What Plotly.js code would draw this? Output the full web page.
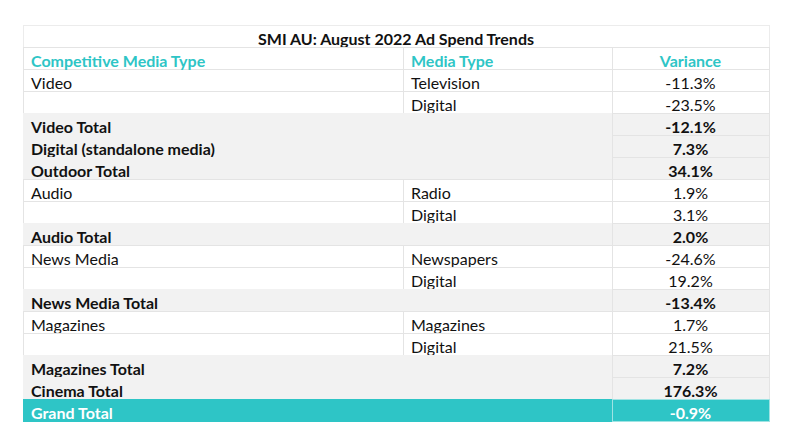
<!DOCTYPE html>
<html>
<head>
<meta charset="utf-8">
<script src="https://cdn.plot.ly/plotly-3.0.1.min.js"></script>
<style>html,body{margin:0;padding:0;background:#fff;}#chart{width:800px;height:444px;}</style>
</head>
<body>
<div id="chart"></div>
<script>
const tableTitle = "SMI AU: August 2022 Ad Spend Trends";
const headers = ["Competitive Media Type", "Media Type", "Variance"];
const compType = ["Video","","Video Total","Digital (standalone media)","Outdoor Total","Audio","","Audio Total","News Media","","News Media Total","Magazines","","Magazines Total","Cinema Total","Grand Total"];
const mediaType = ["Television","Digital","","","","Radio","Digital","","Newspapers","Digital","","Magazines","Digital","","",""];
const variance = [-11.3,-23.5,-12.1,7.3,34.1,1.9,3.1,2.0,-24.6,19.2,-13.4,1.7,21.5,7.2,176.3,-0.9];
const rowKind = ["detail","detail","total","total","total","detail","detail","total","detail","detail","total","detail","detail","total","total","grand"];

const TEAL = "#2ec5c6";
const GREY = "#f2f2f2";
const LINE = "#e4e4e4";
const FONT = "Lato, 'Open Sans', sans-serif";

const col3 = variance.map(v => v.toFixed(1) + "%");

const fillRow = rowKind.map(k => k === "grand" ? TEAL : (k === "total" ? GREY : "#ffffff"));
const fontRow = rowKind.map(k => k === "grand" ? "#ffffff" : "#111111");
const weightRow = rowKind.map(k => k === "detail" ? "normal" : "bold");
const lineMerged = rowKind.map((k, i) => k === "detail" ? LINE : fillRow[i]);
const lineRow = rowKind.map(k => k === "grand" ? "#9fe3e3" : LINE);

const H = 444 - 25 - 10;
const data = [
  {
    type: "table",
    domain: {x: [0, 1], y: [1 - 22/H, 1]},
    columnwidth: [1],
    header: {
      values: [tableTitle],
      align: "center",
      height: 22,
      fill: {color: "#ffffff"},
      line: {color: "#ececec", width: 1},
      font: {family: FONT, size: 16, color: "#111111", weight: "bold"}
    },
    cells: {values: [[]], height: 22}
  },
  {
    type: "table",
    domain: {x: [0, 1], y: [0, 1 - 22/H]},
    columnwidth: [380, 209, 157],
    header: {
      values: headers,
      align: ["left", "left", "center"],
      height: 22,
      fill: {color: "#ffffff"},
      line: {color: LINE, width: 1},
      font: {family: FONT, size: 16, color: TEAL, weight: "bold"}
    },
    cells: {
      values: [compType, mediaType, col3],
      align: ["left", "left", "center"],
      height: 22,
      fill: {color: [fillRow, fillRow, fillRow]},
      line: {color: [lineMerged, lineMerged, lineRow], width: 1},
      font: {family: FONT, size: 16, color: [fontRow, fontRow, fontRow], weight: [weightRow, weightRow, weightRow]}
    }
  }
];

const layout = {
  width: 800, height: 444,
  margin: {l: 23, r: 31, t: 25, b: 10},
  paper_bgcolor: "#ffffff",
  showlegend: false
};

Plotly.newPlot("chart", data, layout, {displayModeBar: false, staticPlot: true});
</script>
</body>
</html>
